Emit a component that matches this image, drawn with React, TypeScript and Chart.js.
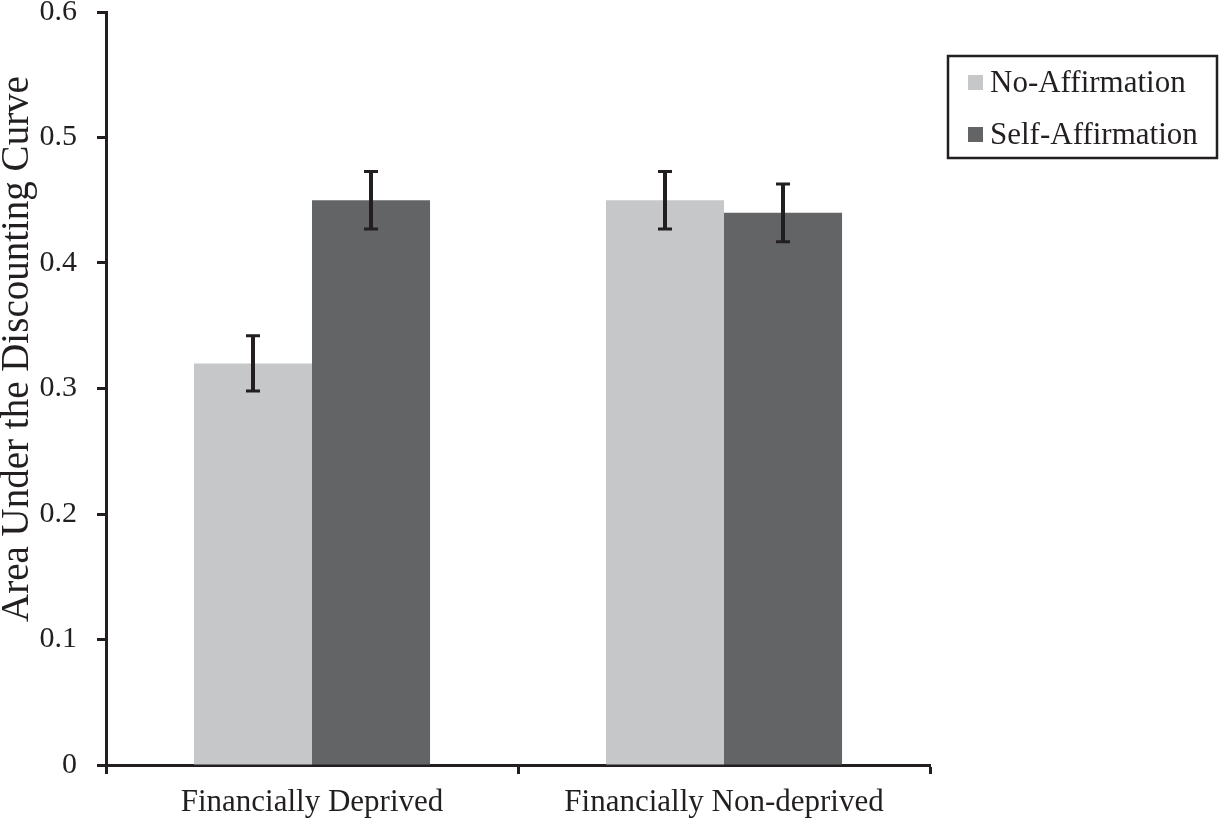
import { useEffect, useRef } from "react"
import { Chart, registerables } from "chart.js"

Chart.register(...registerables)

const categories = ["Financially Deprived", "Financially Non-deprived"]
const seriesNames = ["No-Affirmation", "Self-Affirmation"]
const noAffirmation = [0.32, 0.45]
const selfAffirmation = [0.45, 0.44]
const noAffirmationErr = [0.022, 0.023]
const selfAffirmationErr = [0.023, 0.023]
const yTicks = [0, 0.1, 0.2, 0.3, 0.4, 0.5, 0.6]
const yTitle = "Area Under the Discounting Curve"

const INK = "#231f20"
const FONT = '"Liberation Serif", "Times New Roman", serif'

// barras de error
const errorBarsPlugin = {
  id: "errorBars",
  afterDatasetsDraw(chart: any) {
    const { ctx } = chart
    const errs = [noAffirmationErr, selfAffirmationErr]
    const y = chart.scales.y
    ctx.save()
    ctx.strokeStyle = INK
    chart.data.datasets.forEach((ds: any, di: number) => {
      const meta = chart.getDatasetMeta(di)
      meta.data.forEach((bar: any, i: number) => {
        const v = ds.data[i]
        const e = errs[di][i]
        const top = y.getPixelForValue(v + e)
        const bot = y.getPixelForValue(v - e)
        const x = bar.x
        ctx.lineWidth = 4
        ctx.beginPath()
        ctx.moveTo(x, top)
        ctx.lineTo(x, bot)
        ctx.stroke()
        ctx.lineWidth = 3
        ctx.beginPath()
        ctx.moveTo(x - 7, top)
        ctx.lineTo(x + 7, top)
        ctx.moveTo(x - 7, bot)
        ctx.lineTo(x + 7, bot)
        ctx.stroke()
      })
    })
    ctx.restore()
  },
}

// título del eje y y leyenda con recuadro
const decorPlugin = {
  id: "decor",
  afterDraw(chart: any) {
    const { ctx } = chart
    ctx.save()
    ctx.fillStyle = INK
    ctx.font = `39px ${FONT}`
    ctx.textAlign = "center"
    ctx.textBaseline = "alphabetic"
    ctx.translate(28, 349)
    ctx.rotate(-Math.PI / 2)
    ctx.fillText(yTitle, 0, 0)
    ctx.restore()

    ctx.save()
    ctx.strokeStyle = INK
    ctx.lineWidth = 2.5
    ctx.strokeRect(948, 56, 269, 102)
    ctx.font = `31px ${FONT}`
    ctx.textAlign = "left"
    ctx.textBaseline = "alphabetic"
    chart.data.datasets.forEach((ds: any, i: number) => {
      const rowY = 75 + i * 52
      ctx.fillStyle = ds.backgroundColor
      ctx.fillRect(968, rowY, 15, 15)
      ctx.fillStyle = INK
      ctx.fillText(ds.label, 990, rowY + 17)
    })
    ctx.restore()
  },
}

export default function App() {
  const chartRef = useRef<HTMLCanvasElement>(null)
  const chartInstance = useRef<Chart | null>(null)

  useEffect(() => {
    document.body.style.margin = "0"
    document.body.style.overflow = "hidden"
    if (!chartRef.current) return
    const ctx = chartRef.current.getContext("2d")
    if (!ctx) return

    chartInstance.current = new Chart(ctx, {
      type: "bar",
      data: {
        labels: categories,
        datasets: [
          {
            label: seriesNames[0],
            data: noAffirmation,
            backgroundColor: "#c6c7c9",
            categoryPercentage: 0.573,
            barPercentage: 1,
          },
          {
            label: seriesNames[1],
            data: selfAffirmation,
            backgroundColor: "#636466",
            categoryPercentage: 0.573,
            barPercentage: 1,
          },
        ],
      },
      options: {
        animation: false,
        responsive: true,
        maintainAspectRatio: false,
        layout: { padding: { left: 0, right: 290, top: 12, bottom: 0 } },
        plugins: {
          legend: { display: false },
          tooltip: { enabled: false },
        },
        scales: {
          x: {
            grid: {
              offset: true,
              drawOnChartArea: false,
              drawTicks: true,
              tickLength: 9,
              tickColor: INK,
              tickWidth: 3,
            },
            border: { display: true, color: INK, width: 3 },
            ticks: {
              color: INK,
              padding: 10,
              font: { family: FONT, size: 31 },
            },
            afterFit: (scale: any) => {
              scale.height = 54
              scale.paddingLeft = 0
              scale.paddingRight = 0
            },
          },
          y: {
            min: 0,
            max: 0.6,
            afterBuildTicks: (scale: any) => {
              scale.ticks = yTicks.map((v) => ({ value: v }))
            },
            grid: {
              drawOnChartArea: false,
              drawTicks: true,
              tickLength: 9,
              tickColor: INK,
              tickWidth: 3,
            },
            border: { display: true, color: INK, width: 3 },
            ticks: {
              color: INK,
              padding: 20,
              font: { family: FONT, size: 30 },
              callback: (v: any) => (Number(v) === 0 ? "0" : Number(v).toFixed(1)),
            },
            afterFit: (scale: any) => {
              scale.width = 106
              scale.paddingTop = 0
              scale.paddingBottom = 0
            },
          },
        },
      },
      plugins: [errorBarsPlugin, decorPlugin],
    })

    return () => {
      if (chartInstance.current) {
        chartInstance.current.destroy()
        chartInstance.current = null
      }
    }
  }, [])

  return (
    <div style={{ width: "1220px", height: "819px", position: "relative", background: "#fff" }}>
      <canvas ref={chartRef} />
    </div>
  )
}
